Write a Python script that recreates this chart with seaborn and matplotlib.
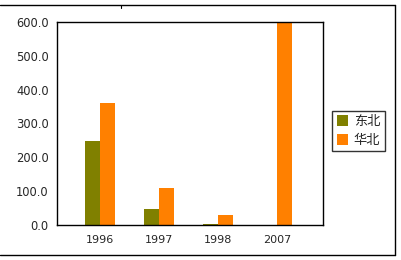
import matplotlib
matplotlib.use("Agg")
import matplotlib.pyplot as plt
import seaborn as sns
import pandas as pd
from matplotlib.lines import Line2D

years = ["1996", "1997", "1998", "2007"]
dongbei = [248, 48, 2, 0]
huabei = [360, 109, 30, 600]
series_names = ["东北", "华北"]
yticks = [0, 100, 200, 300, 400, 500, 600]

df = pd.DataFrame({
    "year": years * 2,
    "value": dongbei + huabei,
    "region": [series_names[0]] * 4 + [series_names[1]] * 4,
})

sns.set_style("white")
plt.rcParams['font.family'] = ['Noto Sans CJK SC', 'DejaVu Sans']

fig = plt.figure(figsize=(4.02, 2.60), dpi=100)
ax = fig.add_axes([57/402, 1-225/260, (323-57)/402, (225-22)/260])

sns.barplot(data=df, x="year", y="value", hue="region", order=years,
            hue_order=series_names, palette=["#808000", "#FF8000"],
            width=0.5, saturation=1, linewidth=0, ax=ax)

ax.set_xlim(-0.73, 3.78)
ax.set_ylim(0, 600)
ax.set_yticks(yticks)
ax.set_yticklabels([f"{v:.1f}" for v in yticks], fontsize=8.3, family='DejaVu Sans')
ax.set_xticklabels(years, fontsize=8, family='DejaVu Sans')
ax.set_xlabel("")
ax.set_ylabel("")
for s in ax.spines.values():
    s.set_visible(True)
    s.set_color("black")
    s.set_linewidth(1)
ax.tick_params(axis='y', direction='in', length=3, width=0.6, color='#999999', pad=6)
ax.tick_params(axis='x', direction='out', length=2, width=0.6, color='#999999', pad=5)

leg = ax.legend(loc="center left", bbox_to_anchor=(332/402, 1-131/260),
                bbox_transform=fig.transFigure, frameon=True, fancybox=False,
                fontsize=9.5, handlelength=0.9, handleheight=0.9,
                handletextpad=0.4, borderpad=0.35, labelspacing=0.4,
                borderaxespad=0)
leg.get_frame().set_edgecolor("black")
leg.get_frame().set_linewidth(1)

# outer frame
X = lambda px: px / 402
Y = lambda py: 1 - py / 260
fig.add_artist(Line2D([X(0), X(395)], [Y(5), Y(5)], color="black", lw=1))
fig.add_artist(Line2D([X(395), X(395)], [Y(5), Y(255)], color="black", lw=1))
fig.add_artist(Line2D([X(0), X(395)], [Y(255), Y(255)], color="black", lw=1))
fig.add_artist(Line2D([X(121), X(121)], [Y(5), Y(8)], color="black", lw=0.8))

fig.savefig("out.png", dpi=100)
